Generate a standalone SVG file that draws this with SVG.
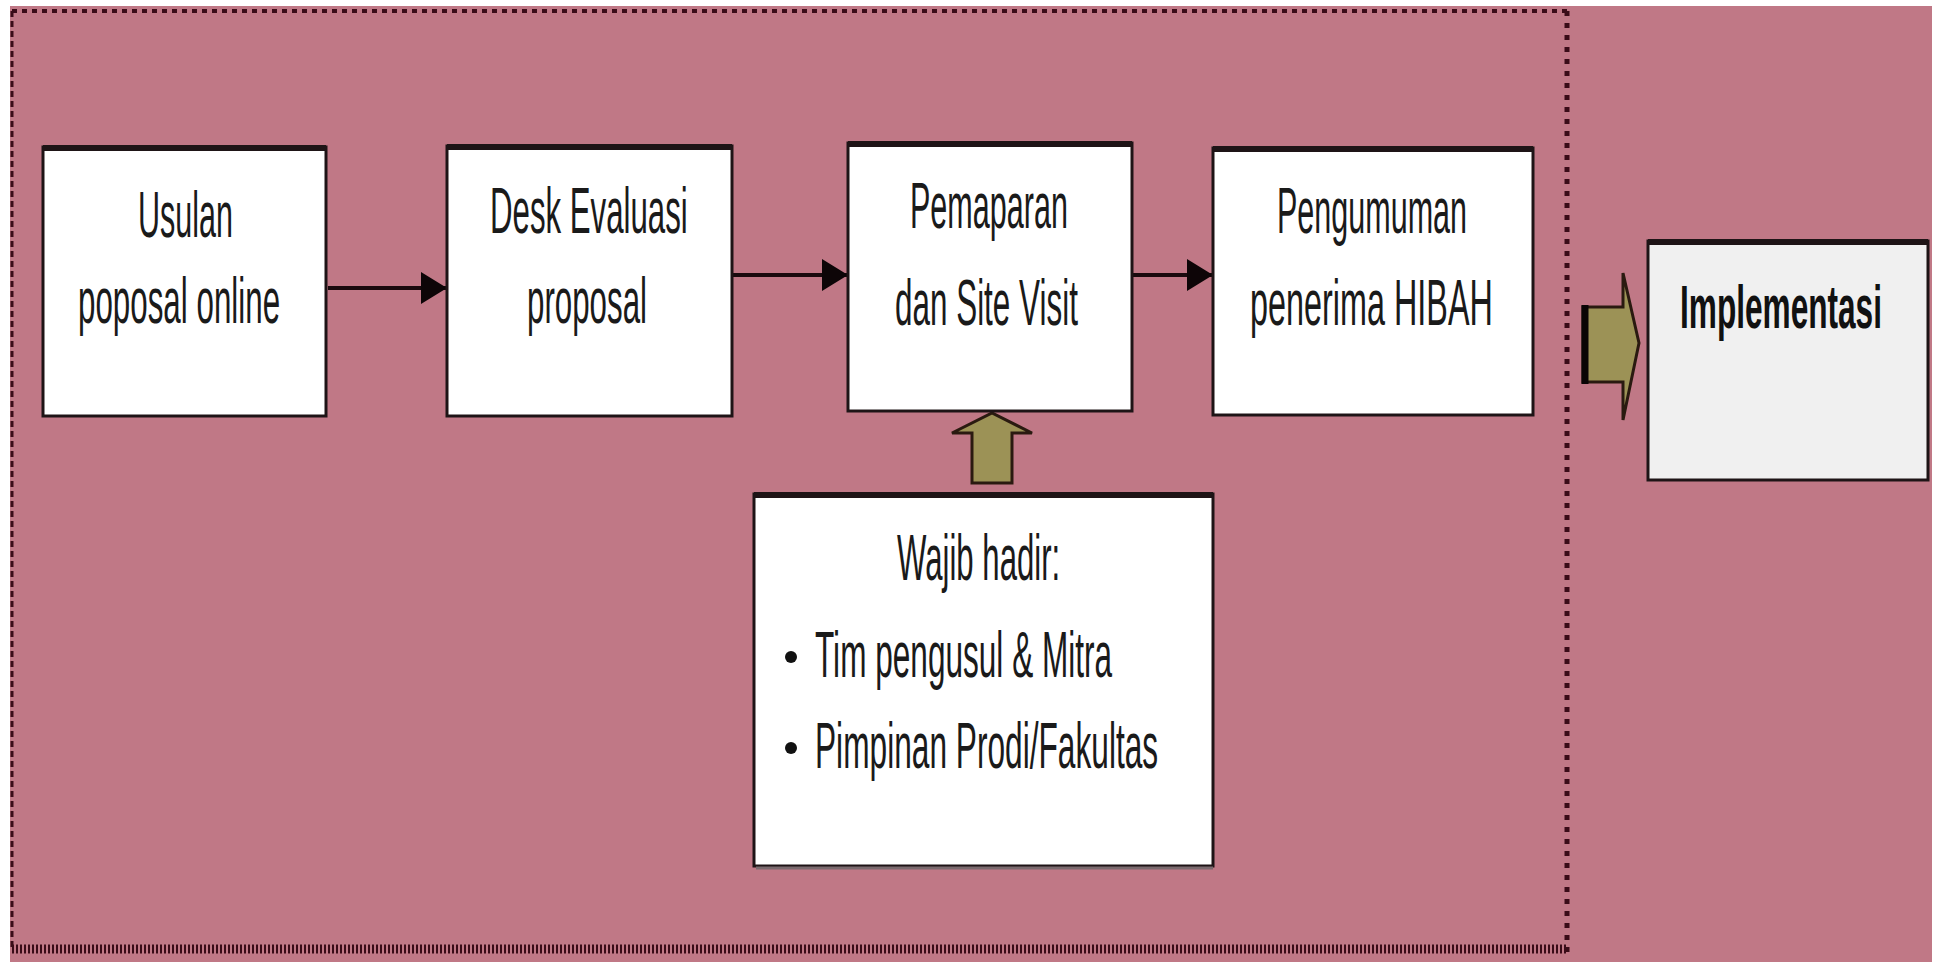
<svg xmlns="http://www.w3.org/2000/svg" width="1934" height="962" viewBox="0 0 1934 962">
<style>
.box{fill:#ffffff;stroke:#1e1416;stroke-width:3}
.top{stroke:#1e1416;stroke-width:6}
.t{font-family:"Liberation Sans",Arial,sans-serif;font-size:64px;fill:#1a1a1a}
.tb{font-family:"Liberation Sans",Arial,sans-serif;font-size:62px;font-weight:bold;fill:#111}
.con{stroke:#1a0a0e;stroke-width:4;fill:none}
.blk{fill:#9c9256;stroke:#2a1a10;stroke-width:3;stroke-linejoin:miter}
.dot{stroke:#3a0c18;fill:none}
</style>
<defs>
<marker id="ah" markerWidth="26" markerHeight="32" refX="26" refY="16" orient="auto" markerUnits="userSpaceOnUse">
<path d="M0,0 L26,16 L0,32 Z" fill="#0d0507"/>
</marker>
</defs>
<rect x="0" y="0" width="1934" height="962" fill="#ffffff"/>
<rect x="10" y="6" width="1922" height="956" fill="#c07886"/>
<g id="frame">
<line class="dot" x1="12" y1="11" x2="1567" y2="11" stroke-width="4" stroke-dasharray="5 5"/>
<line class="dot" x1="12" y1="11" x2="12" y2="950" stroke-width="3" stroke-dasharray="6 4"/>
<line class="dot" x1="1567" y1="11" x2="1567" y2="953" stroke-width="5" stroke-dasharray="5 7"/>
<line class="dot" x1="12" y1="949" x2="1567" y2="949" stroke-width="9" stroke-dasharray="2 2"/>
</g>
<g id="connectors">
<line class="con" x1="328" y1="288" x2="447" y2="288" marker-end="url(#ah)"/>
<line class="con" x1="733" y1="275" x2="848" y2="275" marker-end="url(#ah)"/>
<line class="con" x1="1133" y1="275" x2="1213" y2="275" marker-end="url(#ah)"/>
<polygon class="blk" points="972,483 972,433 952,433 992,413 1032,433 1012,433 1012,483"/>
<polygon class="blk" points="1583,307 1623,307 1623,273 1639,343 1623,420 1623,382 1583,382"/>
<line x1="1585" y1="305" x2="1585" y2="384" stroke="#0a0505" stroke-width="7"/>
</g>
<g id="n1">
<rect class="box" x="43" y="147" width="283" height="269"/>
<line class="top" x1="43" y1="148" x2="326" y2="148"/>
<text class="t" transform="translate(138,237) scale(0.48,1)" textLength="198" lengthAdjust="spacingAndGlyphs">Usulan</text>
<text class="t" transform="translate(78,323) scale(0.48,1)" textLength="421" lengthAdjust="spacingAndGlyphs">poposal online</text>
</g>
<g id="n2">
<rect class="box" x="447" y="146" width="285" height="270"/>
<line class="top" x1="447" y1="147" x2="732" y2="147"/>
<text class="t" transform="translate(490,233) scale(0.48,1)" textLength="412" lengthAdjust="spacingAndGlyphs">Desk Evaluasi</text>
<text class="t" transform="translate(527,323) scale(0.48,1)" textLength="250" lengthAdjust="spacingAndGlyphs">proposal</text>
</g>
<g id="n3">
<rect class="box" x="848" y="143" width="284" height="268"/>
<line class="top" x1="848" y1="144" x2="1132" y2="144"/>
<text class="t" transform="translate(910,228) scale(0.48,1)" textLength="329" lengthAdjust="spacingAndGlyphs">Pemaparan</text>
<text class="t" transform="translate(895,325) scale(0.48,1)" textLength="381" lengthAdjust="spacingAndGlyphs">dan Site Visit</text>
</g>
<g id="n4">
<rect class="box" x="1213" y="148" width="320" height="267"/>
<line class="top" x1="1213" y1="149" x2="1533" y2="149"/>
<text class="t" transform="translate(1277,233) scale(0.48,1)" textLength="396" lengthAdjust="spacingAndGlyphs">Pengumuman</text>
<text class="t" transform="translate(1250,325) scale(0.48,1)" textLength="506" lengthAdjust="spacingAndGlyphs">penerima HIBAH</text>
</g>
<g id="n5">
<rect class="box" x="754" y="494" width="459" height="372"/>
<line class="top" x1="754" y1="495" x2="1213" y2="495"/>
<line x1="756" y1="868" x2="1213" y2="868" stroke="#7a6a6e" stroke-width="3"/>
<text class="t" transform="translate(897,580) scale(0.48,1)" textLength="340" lengthAdjust="spacingAndGlyphs">Wajib hadir:</text>
<circle cx="791" cy="657" r="6" fill="#111"/>
<text class="t" transform="translate(815,677) scale(0.48,1)" textLength="619" lengthAdjust="spacingAndGlyphs">Tim pengusul &amp; Mitra</text>
<circle cx="791" cy="748" r="6" fill="#111"/>
<text class="t" transform="translate(815,768) scale(0.48,1)" textLength="715" lengthAdjust="spacingAndGlyphs">Pimpinan Prodi/Fakultas</text>
</g>
<g id="n6">
<rect x="1648" y="241" width="280" height="239" fill="#f0f0f0" stroke="#1e1416" stroke-width="3"/>
<line class="top" x1="1648" y1="242" x2="1928" y2="242"/>
<text class="tb" transform="translate(1680,328) scale(0.51,1)" textLength="396" lengthAdjust="spacingAndGlyphs">Implementasi</text>
</g>
</svg>
